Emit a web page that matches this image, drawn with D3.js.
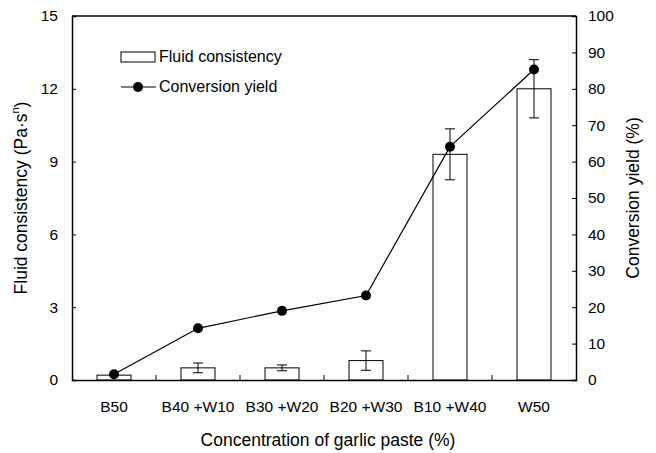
<!DOCTYPE html>
<html>
<head>
<meta charset="utf-8">
<script src="https://cdn.jsdelivr.net/npm/d3@7"></script>
<style>
  body { margin: 0; background: #fff; }
  svg { font-family: "Liberation Sans", Arial, sans-serif; }
</style>
</head>
<body>
<div id="chart"></div>
<script>
// Data
const categories = ["B50", "B40 +W10", "B30 +W20", "B20 +W30", "B10 +W40", "W50"];
const consistency = [0.2, 0.5, 0.5, 0.8, 9.3, 12.0];
const consistencyErr = [0, 0.2, 0.12, 0.4, 1.05, 1.2];
const conversion = [1.6, 14.2, 19.0, 23.2, 64.1, 85.3];
const leftTicks = [0, 3, 6, 9, 12, 15];
const rightTicks = [0, 10, 20, 30, 40, 50, 60, 70, 80, 90, 100];

const W = 656, H = 453;
const margin = {top: 16, right: 80, bottom: 73, left: 72};
const width = W - margin.left - margin.right;
const height = H - margin.top - margin.bottom;

const svg = d3.select("#chart").append("svg")
    .attr("width", W)
    .attr("height", H);

const g = svg.append("g")
    .attr("transform", `translate(${margin.left},${margin.top})`);

// Scales
const xBand = d3.scaleBand().domain(categories).range([0, width]);
const yL = d3.scaleLinear().domain([0, 15]).range([height, 0]);
const yR = d3.scaleLinear().domain([0, 100]).range([height, 0]);
const cx = d => xBand(d) + xBand.bandwidth() / 2;

// Bars
g.selectAll(".bar")
    .data(categories)
    .enter().append("rect")
    .attr("class", "bar")
    .attr("x", d => cx(d) - 17)
    .attr("width", 34)
    .attr("y", (d, i) => yL(consistency[i]))
    .attr("height", (d, i) => height - yL(consistency[i]))
    .attr("fill", "#fff")
    .attr("stroke", "#000")
    .attr("stroke-width", 1);

// Error bars
const errs = g.selectAll(".err")
    .data(categories.map((c, i) => ({c, v: consistency[i], e: consistencyErr[i]})).filter(d => d.e > 0))
    .enter().append("g")
    .attr("class", "err")
    .attr("stroke", "#000")
    .attr("stroke-width", 1);
errs.append("line")
    .attr("x1", d => cx(d.c))
    .attr("x2", d => cx(d.c))
    .attr("y1", d => yL(d.v + d.e))
    .attr("y2", d => yL(d.v - d.e));
[1, -1].forEach(s => {
    errs.append("line")
        .attr("x1", d => cx(d.c) - 5)
        .attr("x2", d => cx(d.c) + 5)
        .attr("y1", d => yL(d.v + s * d.e))
        .attr("y2", d => yL(d.v + s * d.e));
});

// Conversion line
const line = d3.line()
    .x((d, i) => cx(categories[i]))
    .y(d => yR(d));
g.append("path")
    .datum(conversion)
    .attr("d", line)
    .attr("fill", "none")
    .attr("stroke", "#000")
    .attr("stroke-width", 1.2);
g.selectAll(".pt")
    .data(conversion)
    .enter().append("circle")
    .attr("cx", (d, i) => cx(categories[i]))
    .attr("cy", d => yR(d))
    .attr("r", 5)
    .attr("fill", "#000");

// Axes (ticks point inward)
const axL = g.append("g")
    .call(d3.axisLeft(yL).tickValues(leftTicks).tickSize(-4).tickPadding(12));
const axR = g.append("g")
    .attr("transform", `translate(${width},0)`)
    .call(d3.axisRight(yR).tickValues(rightTicks).tickSize(-4).tickPadding(12));
const axB = g.append("g")
    .attr("transform", `translate(0,${height})`)
    .call(d3.axisBottom(xBand).tickSize(0).tickPadding(21));
// category separator ticks
g.selectAll(".sep")
    .data(categories.slice(1))
    .enter().append("line")
    .attr("x1", d => xBand(d))
    .attr("x2", d => xBand(d))
    .attr("y1", height)
    .attr("y2", height - 5)
    .attr("stroke", "#000");
// top frame
g.append("line")
    .attr("x1", 0).attr("x2", width)
    .attr("y1", 0).attr("y2", 0)
    .attr("stroke", "#000").attr("stroke-width", 1.5);

[axL, axR, axB].forEach(a => {
    a.attr("font-size", null).attr("font-family", null);
    a.select(".domain").attr("stroke-width", 1.5);
    a.selectAll("text").style("font-size", "15.5px").attr("fill", "#000");
});
axL.selectAll("text").attr("dx", "-2");

// Axis titles
svg.append("text")
    .attr("x", margin.left + width / 2 + 4)
    .attr("y", 446)
    .attr("text-anchor", "middle")
    .style("font-size", "17.5px")
    .text("Concentration of garlic paste (%)");

const lt = svg.append("text")
    .attr("transform", `translate(27,${margin.top + height / 2}) rotate(-90)`)
    .attr("text-anchor", "middle")
    .style("font-size", "17.5px");
lt.append("tspan").text("Fluid consistency (Pa·s");
lt.append("tspan").attr("dy", -8).style("font-size", "11px").text("n");
lt.append("tspan").attr("dy", 8).text(")");

svg.append("text")
    .attr("transform", `translate(639,${margin.top + height / 2}) rotate(-90)`)
    .attr("text-anchor", "middle")
    .style("font-size", "17.5px")
    .text("Conversion yield (%)");

// Legend
const leg = svg.append("g").style("font-size", "16px");
leg.append("rect")
    .attr("x", 121).attr("y", 52)
    .attr("width", 34).attr("height", 10)
    .attr("fill", "#fff").attr("stroke", "#000");
leg.append("text").attr("x", 159).attr("y", 62).text("Fluid consistency");
leg.append("line")
    .attr("x1", 121).attr("x2", 156)
    .attr("y1", 87).attr("y2", 87)
    .attr("stroke", "#000").attr("stroke-width", 1.2);
leg.append("circle").attr("cx", 138).attr("cy", 87).attr("r", 5).attr("fill", "#000");
leg.append("text").attr("x", 159).attr("y", 92).text("Conversion yield");
</script>
</body>
</html>
